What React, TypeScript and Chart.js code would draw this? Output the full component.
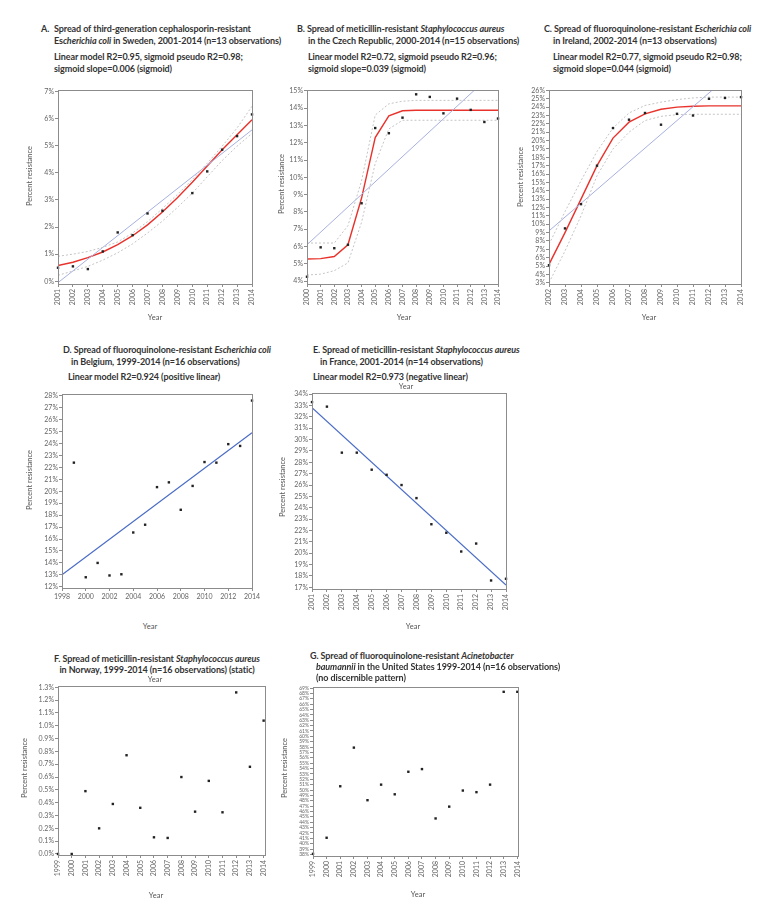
import React, { useEffect, useRef } from 'react';
import { Chart, registerables } from 'chart.js';
Chart.register(...registerables);

// ---------- Data ----------
// A. Sweden, 3rd-gen cephalosporin-resistant E. coli
const yearsA = [2001, 2002, 2003, 2004, 2005, 2006, 2007, 2008, 2010, 2011, 2012, 2013, 2014];
const obsA = [0.5, 0.55, 0.45, 1.1, 1.8, 1.7, 2.5, 2.6, 3.25, 4.05, 4.85, 5.35, 6.15];
const fitYearsA = [2001, 2002, 2003, 2004, 2005, 2006, 2007, 2008, 2009, 2010, 2011, 2012, 2013, 2014];
const sigmoidA = [0.58, 0.7, 0.87, 1.08, 1.35, 1.68, 2.08, 2.55, 3.08, 3.65, 4.25, 4.85, 5.4, 5.95];
const upperA = [0.92, 1.0, 1.1, 1.25, 1.45, 1.78, 2.2, 2.68, 3.2, 3.75, 4.35, 4.98, 5.65, 6.45];
const lowerA = [0.22, 0.38, 0.55, 0.78, 1.05, 1.38, 1.78, 2.22, 2.72, 3.25, 3.85, 4.45, 4.98, 5.45];
const linYearsA = [2001, 2014];
const linearA = [-0.05, 5.58];

// B. Czech Republic, MRSA
const yearsB = [2000, 2001, 2002, 2003, 2004, 2005, 2006, 2007, 2008, 2009, 2010, 2011, 2012, 2013, 2014];
const obsB = [4.25, 5.95, 5.9, 6.1, 8.5, 12.85, 12.55, 13.45, 14.8, 14.65, 13.7, 14.55, 13.9, 13.2, 13.4];
const sigmoidB = [5.28, 5.3, 5.42, 6.1, 8.8, 12.3, 13.55, 13.85, 13.88, 13.88, 13.88, 13.88, 13.88, 13.88, 13.88];
const upperB = [6.2, 6.2, 6.2, 7.2, 9.8, 13.6, 14.25, 14.4, 14.45, 14.45, 14.45, 14.45, 14.45, 14.45, 14.45];
const lowerB = [4.35, 4.4, 4.6, 5.05, 7.4, 10.8, 12.8, 13.3, 13.3, 13.3, 13.3, 13.3, 13.3, 13.3, 13.3];
const linYearsB = [2000, 2014];
const linearB = [6.1, 16.3];

// C. Ireland, fluoroquinolone-resistant E. coli
const yearsC = [2002, 2003, 2004, 2005, 2006, 2007, 2008, 2009, 2010, 2011, 2012, 2013, 2014];
const obsC = [5.1, 9.5, 12.4, 17.0, 21.5, 22.5, 23.3, 21.9, 23.2, 23.0, 25.0, 25.1, 25.2];
const sigmoidC = [5.2, 9.0, 13.0, 17.0, 20.3, 22.2, 23.2, 23.75, 24.0, 24.1, 24.15, 24.15, 24.15];
const upperC = [7.6, 11.5, 15.2, 18.7, 21.5, 23.3, 24.2, 24.6, 24.9, 25.1, 25.2, 25.2, 25.2];
const lowerC = [3.0, 6.8, 11.0, 15.8, 19.0, 21.0, 22.4, 22.9, 23.1, 23.15, 23.15, 23.15, 23.15];
const linYearsC = [2002, 2014];
const linearC = [9.2, 29.0];

// D. Belgium, fluoroquinolone-resistant E. coli
const yearsD = [1999, 2000, 2001, 2002, 2003, 2004, 2005, 2006, 2007, 2008, 2009, 2010, 2011, 2012, 2013, 2014];
const obsD = [22.4, 12.8, 14.0, 12.95, 13.05, 16.55, 17.2, 20.35, 20.75, 18.45, 20.45, 22.45, 22.4, 23.95, 23.8, 27.6];
const linYearsD = [1998, 2014];
const linearD = [13.0, 24.9];

// E. France, MRSA
const yearsE = [2001, 2002, 2003, 2004, 2005, 2006, 2007, 2008, 2009, 2010, 2011, 2012, 2013, 2014];
const obsE = [33.3, 32.9, 28.85, 28.85, 27.35, 26.9, 26.0, 24.85, 22.55, 21.8, 20.15, 20.85, 17.6, 17.75];
const linYearsE = [2001, 2014];
const linearE = [32.8, 17.2];

// F. Norway, MRSA
const yearsF = [1999, 2000, 2001, 2002, 2003, 2004, 2005, 2006, 2007, 2008, 2009, 2010, 2011, 2012, 2013, 2014];
const obsF = [0.0, 0.0, 0.49, 0.2, 0.39, 0.77, 0.36, 0.13, 0.125, 0.6, 0.33, 0.57, 0.325, 1.26, 0.68, 1.04];

// G. United States, fluoroquinolone-resistant A. baumannii
const yearsG = [1999, 2000, 2001, 2002, 2003, 2004, 2005, 2006, 2007, 2008, 2009, 2010, 2011, 2012, 2013, 2014];
const obsG = [38.1, 41.1, 50.7, 57.9, 48.1, 51.0, 49.2, 53.4, 53.9, 44.7, 46.9, 49.9, 49.6, 51.0, 68.3, 68.3];

// ---------- Styling ----------
const FONT = "Lato, 'Open Sans', sans-serif";
const RED = '#e8322b';
const LAV = '#a7b0e0';
const BLUE = '#4a6cc6';
const GREY = '#c4c4c4';
const FRAME = '#8c8c8c';
const TICKC = '#666';

const pts = (xs: number[], ys: number[]) => xs.map((x, i) => ({ x, y: ys[i] }));

const scatterDs = (xs: number[], ys: number[]) => ({
  data: pts(xs, ys), showLine: false, pointRadius: 1.7, pointStyle: 'rect',
  pointBackgroundColor: '#222', pointBorderColor: '#222', pointBorderWidth: 0, order: 0, clip: false,
});
const lineDs = (xs: number[], ys: number[], color: string, width: number, dash?: number[]) => ({
  data: pts(xs, ys), showLine: true, pointRadius: 0, borderColor: color, borderWidth: width,
  borderDash: dash || [], tension: 0, fill: false, order: 1,
});

const framePlugin = {
  id: 'frame',
  afterDatasetsDraw(chart: any) {
    const { ctx, chartArea: a } = chart;
    ctx.save();
    ctx.strokeStyle = FRAME;
    ctx.lineWidth = 1;
    ctx.strokeRect(Math.round(a.left) + 0.5, Math.round(a.top) + 0.5, Math.round(a.right - a.left), Math.round(a.bottom - a.top));
    ctx.restore();
  },
};

type PanelCfg = {
  plot: [number, number, number, number];
  xMin: number; xMax: number; xStep: number; rot: boolean;
  yMin: number; yMax: number; yStep: number; yFmt: (v: number) => string; yFont?: number;
  datasets: any[];
};

const YW = 34, PADT = 8, PADR = 12;

function ChartPanel({ cfg }: { cfg: PanelCfg }) {
  const ref = useRef<HTMLCanvasElement>(null);
  const [l, t, r, b] = cfg.plot;
  const xH = cfg.rot ? 32 : 16;
  const W = r - l + YW + PADR;
  const H = b - t + PADT + xH;
  useEffect(() => {
    const chart = new Chart(ref.current!, {
      type: 'scatter',
      data: { datasets: cfg.datasets },
      plugins: [framePlugin],
      options: {
        animation: false, responsive: false, devicePixelRatio: 1,
        layout: { padding: { top: PADT, right: PADR, left: 0, bottom: 0 } },
        plugins: { legend: { display: false }, tooltip: { enabled: false } },
        scales: {
          x: {
            type: 'linear', min: cfg.xMin, max: cfg.xMax,
            afterFit: (s: any) => { s.height = xH; },
            border: { display: true, color: FRAME },
            grid: { drawOnChartArea: false, drawTicks: true, tickLength: 3, color: FRAME },
            ticks: {
              stepSize: cfg.xStep, includeBounds: false, autoSkip: false,
              minRotation: cfg.rot ? 90 : 0, maxRotation: cfg.rot ? 90 : 0, padding: 2,
              color: TICKC, font: { family: FONT, size: 7 },
              callback: (v: any) => String(v),
            },
          },
          y: {
            type: 'linear', min: cfg.yMin, max: cfg.yMax,
            afterFit: (s: any) => { s.width = YW; },
            border: { display: true, color: FRAME },
            grid: { drawOnChartArea: false, drawTicks: true, tickLength: 3, color: FRAME },
            ticks: {
              stepSize: cfg.yStep, includeBounds: false, autoSkip: false, padding: 1,
              color: TICKC, font: { family: FONT, size: cfg.yFont || 7 },
              callback: (v: any) => cfg.yFmt(Number(v)),
            },
          },
        },
      } as any,
    });
    return () => chart.destroy();
  }, []);
  return (
    <canvas ref={ref} width={W} height={H}
      style={{ position: 'absolute', left: l - YW, top: t - PADT, width: W, height: H }} />
  );
}

function T({ x, y, children, size = 9, bold = true, center = false, color = '#333' }: any) {
  return (
    <div style={{
      position: 'absolute', left: x, top: y - 6, lineHeight: '12px', height: 12,
      fontSize: size, fontWeight: bold ? 700 : 400, color, whiteSpace: 'nowrap',
      transform: center ? 'translateX(-50%)' : undefined, letterSpacing: bold ? '-0.1px' : undefined,
    }}>{children}</div>
  );
}
function Year({ x, y }: any) {
  return <T x={x} y={y} size={7.5} bold={false} center color="#555">Year</T>;
}
function PR({ x, y }: any) {
  return (
    <div style={{
      position: 'absolute', left: x - 50, top: y - 6, width: 100, height: 12, lineHeight: '12px',
      textAlign: 'center', fontSize: 7.5, color: '#555', transform: 'rotate(-90deg)', whiteSpace: 'nowrap',
    }}>Percent resistance</div>
  );
}
const I = ({ children }: any) => <i>{children}</i>;

const pct0 = (v: number) => `${Math.round(v)}%`;

const panels: PanelCfg[] = [
  {
    plot: [58, 90, 252, 284], xMin: 2001, xMax: 2014, xStep: 1, rot: true,
    yMin: -0.1, yMax: 7.05, yStep: 1, yFmt: pct0,
    datasets: [
      lineDs(fitYearsA, upperA, GREY, 1, [2, 2]), lineDs(fitYearsA, lowerA, GREY, 1, [2, 2]),
      lineDs(linYearsA, linearA, LAV, 1), lineDs(fitYearsA, sigmoidA, RED, 1.4), scatterDs(yearsA, obsA),
    ],
  },
  {
    plot: [307, 90, 498, 284], xMin: 2000, xMax: 2014, xStep: 1, rot: true,
    yMin: 3.83, yMax: 15.05, yStep: 1, yFmt: pct0,
    datasets: [
      lineDs(yearsB, upperB, GREY, 1, [2, 2]), lineDs(yearsB, lowerB, GREY, 1, [2, 2]),
      lineDs(linYearsB, linearB, LAV, 1), lineDs(yearsB, sigmoidB, RED, 1.4), scatterDs(yearsB, obsB),
    ],
  },
  {
    plot: [549, 90, 741, 284], xMin: 2002, xMax: 2014, xStep: 1, rot: true,
    yMin: 2.85, yMax: 26.05, yStep: 1, yFmt: pct0,
    datasets: [
      lineDs(yearsC, upperC, GREY, 1, [2, 2]), lineDs(yearsC, lowerC, GREY, 1, [2, 2]),
      lineDs(linYearsC, linearC, LAV, 1), lineDs(yearsC, sigmoidC, RED, 1.4), scatterDs(yearsC, obsC),
    ],
  },
  {
    plot: [62, 394, 252, 588], xMin: 1998, xMax: 2014, xStep: 2, rot: false,
    yMin: 11.9, yMax: 28.15, yStep: 1, yFmt: pct0,
    datasets: [lineDs(linYearsD, linearD, BLUE, 1.2), scatterDs(yearsD, obsD)],
  },
  {
    plot: [312, 393, 506, 589], xMin: 2001, xMax: 2014, xStep: 1, rot: true,
    yMin: 16.85, yMax: 34.1, yStep: 1, yFmt: pct0,
    datasets: [lineDs(linYearsE, linearE, BLUE, 1.2), scatterDs(yearsE, obsE)],
  },
  {
    plot: [58, 686, 265, 855], xMin: 1999, xMax: 2014.1, xStep: 1, rot: true,
    yMin: -0.008, yMax: 1.31, yStep: 0.1, yFmt: (v) => `${v.toFixed(1)}%`,
    datasets: [scatterDs(yearsF, obsF)],
  },
  {
    plot: [313, 687, 518, 856], xMin: 1999, xMax: 2014.05, xStep: 1, rot: true,
    yMin: 37.7, yMax: 69.2, yStep: 1, yFmt: pct0, yFont: 5,
    datasets: [scatterDs(yearsG, obsG)],
  },
];

export default function App() {
  return (
    <div style={{ position: 'absolute', left: 0, top: 0, width: 761, height: 909, background: '#fff', fontFamily: FONT, overflow: 'hidden' }}>
      {panels.map((p, i) => <ChartPanel key={i} cfg={p} />)}

      {/* A */}
      <T x={41} y={29}>A.</T>
      <T x={54} y={29}>Spread of third-generation cephalosporin-resistant</T>
      <T x={54} y={41}>Es<I>cherichia coli</I> in Sweden, 2001-2014 (n=13 observations)</T>
      <T x={54} y={57}>Linear model R2=0.95, sigmoid pseudo R2=0.98;</T>
      <T x={54} y={69}>sigmoid slope=0.006 (sigmoid)</T>
      <PR x={30} y={176} />
      <Year x={155} y={318} />

      {/* B */}
      <T x={297} y={29}>B. Spread of meticillin-resistant <I>Staphylococcus aureus</I></T>
      <T x={308} y={41}>in the Czech Republic, 2000-2014 (n=15 observations)</T>
      <T x={308} y={57}>Linear model R2=0.72, sigmoid pseudo R2=0.96;</T>
      <T x={308} y={69}>sigmoid slope=0.039 (sigmoid)</T>
      <PR x={282} y={184} />
      <Year x={404} y={318} />

      {/* C */}
      <T x={544} y={29}>C. Spread of fluoroquinolone-resistant <I>Escherichia coli</I></T>
      <T x={553} y={41}>in Ireland, 2002-2014 (n=13 observations)</T>
      <T x={553} y={57}>Linear model R2=0.77, sigmoid pseudo R2=0.98;</T>
      <T x={553} y={69}>sigmoid slope=0.044 (sigmoid)</T>
      <PR x={521} y={177} />
      <Year x={649} y={318} />

      {/* D */}
      <T x={63} y={350}>D. Spread of fluoroquinolone-resistant <I>Escherichia coli</I></T>
      <T x={71} y={362}>in Belgium, 1999-2014 (n=16 observations)</T>
      <T x={68} y={377}>Linear model R2=0.924 (positive linear)</T>
      <PR x={30} y={480} />
      <Year x={150} y={627} />

      {/* E */}
      <T x={313} y={350}>E. Spread of meticillin-resistant <I>Staphylococcus aureus</I></T>
      <T x={320} y={362}>in France, 2001-2014 (n=14 observations)</T>
      <T x={313} y={377}>Linear model R2=0.973 (negative linear)</T>
      <Year x={406} y={387} />
      <PR x={283} y={487} />
      <Year x={413} y={627} />

      {/* F */}
      <T x={157} y={659} center>F. Spread of meticillin-resistant <I>Staphylococcus aureus</I></T>
      <T x={157} y={670} center>in Norway, 1999-2014 (n=16 observations) (static)</T>
      <Year x={155} y={680} />
      <PR x={25} y={768} />
      <Year x={156} y={896} />

      {/* G */}
      <T x={310} y={656}>G. Spread of fluoroquinolone-resistant <I>Acinetobacter</I></T>
      <T x={316} y={667}><I>baumannii</I> in the United States 1999-2014 (n=16 observations)</T>
      <T x={316} y={678}>(no discernible pattern)</T>
      <PR x={285} y={768} />
      <Year x={418} y={895} />
    </div>
  );
}
